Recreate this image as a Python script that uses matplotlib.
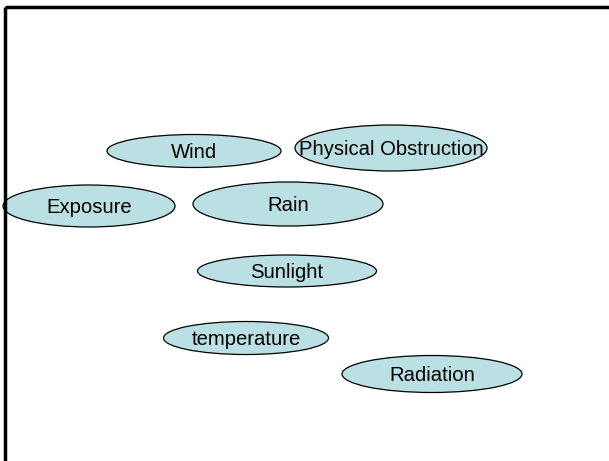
import matplotlib.pyplot as plt
from matplotlib.patches import Ellipse

# labels and ellipse centres / sizes in pixel units of the slide
labels = ["Wind", "Physical Obstruction", "Exposure", "Rain", "Sunlight", "temperature", "Radiation"]
cx = [194, 391, 89, 288, 287, 246, 432]
cy = [151, 148, 206, 204, 271, 338, 374]
widths = [174, 192, 172, 190, 179, 165, 180]
heights = [33, 46, 42, 44, 32, 33, 37]

fig = plt.figure(figsize=(6.09, 4.61), dpi=100)
ax = fig.add_axes([0, 0, 1, 1])
ax.set_xlim(0, 609)
ax.set_ylim(461, 0)
ax.axis("off")

# slide frame (only top and left edges visible)
ax.plot([4.5, 609], [7.5, 7.5], color="black", lw=2.5, solid_capstyle="butt")
ax.plot([4.5, 4.5], [7.5, 461], color="black", lw=2.5, solid_capstyle="butt")

for lab, x, y, w, h in zip(labels, cx, cy, widths, heights):
    ax.add_patch(Ellipse((x, y), w, h, facecolor="#bbe0e3", edgecolor="black", lw=0.9))
    ax.text(x, y + 1, lab, ha="center", va="center", fontsize=14.6,
            family="Liberation Sans", color="black")

plt.savefig("out.png", dpi=100)
